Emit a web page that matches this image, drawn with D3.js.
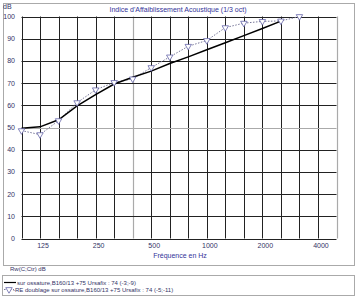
<!DOCTYPE html>
<html lang="en">
<head>
    <meta charset="UTF-8">
    <title>Indice d'Affaiblissement Acoustique</title>
    <style>
        body { margin: 0; background: #fff; }
        svg text { font-family: 'Liberation Sans', Arial, sans-serif; }
    </style>
    <script src="https://d3js.org/d3.v7.min.js"></script>
</head>
<body>
    <svg width="358" height="300"></svg>
    <script>
        // 1/3 octave bands
        const bands = [100, 125, 160, 200, 250, 315, 400, 500, 630, 800, 1000, 1250, 1600, 2000, 2500, 3150, 4000, 5000];
        const xLabels = [125, 250, 500, 1000, 2000, 4000];
        const yTicks = [0, 10, 20, 30, 40, 50, 60, 70, 80, 90, 100];

        // sur ossature
        const ossature = [49.7, 50.3, 53.5, 59.7, 64.8, 69.6, 72.6, 75.4, 78.8, 81.8, 85.0, 88.2, 91.4, 94.6, 97.9, null, null, null];
        // RE doublage
        const doublage = [48.6, 46.8, 53.1, 61.2, 67.0, 70.3, 71.9, 77.0, 81.8, 86.6, 89.2, 95.0, 97.0, 97.8, 98.0, 100.0, null, null];

        const legendLabels = [
            "sur ossature,B160/13 +75 Ursafix : 74 (-3;-9)",
            "-RE doublage sur ossature,B160/13 +75 Ursafix : 74 (-5;-11)"
        ];

        const svg = d3.select("svg");
        const plotL = 21.5, plotR = 336.5, plotT = 16.5, plotB = 238.5;

        const x = d3.scalePoint().domain(bands).range([plotL, plotR]);
        const y = d3.scaleLinear().domain([0, 100]).range([plotB, plotT]);

        // outer frames
        svg.append("rect")
            .attr("x", 3.5).attr("y", 3.5)
            .attr("width", 351).attr("height", 262)
            .attr("fill", "none").attr("stroke", "#aaa");
        svg.append("rect")
            .attr("x", 2.5).attr("y", 275.5)
            .attr("width", 352).attr("height", 20)
            .attr("fill", "none").attr("stroke", "#aaa");

        // grid
        const grid = svg.append("g");
        grid.selectAll("line.v")
            .data(bands)
            .enter().append("line")
            .attr("x1", d => Math.round(x(d)) + 0.5).attr("x2", d => Math.round(x(d)) + 0.5)
            .attr("y1", plotT).attr("y2", plotB)
            .attr("stroke", d => (d === 400 || d === 5000) ? "#aaa" : "#222")
            .attr("stroke-width", d => (d === 400 || d === 5000) ? 1.2 : 1);
        grid.selectAll("line.h")
            .data(yTicks)
            .enter().append("line")
            .attr("x1", plotL).attr("x2", plotR)
            .attr("y1", d => Math.round(y(d)) + 0.5).attr("y2", d => Math.round(y(d)) + 0.5)
            .attr("stroke", d => d === 50 ? "#aaa" : "#222")
            .attr("stroke-width", d => d === 50 ? 1.2 : 1);

        // axis labels
        svg.append("g").selectAll("text")
            .data(yTicks)
            .enter().append("text")
            .attr("x", 15).attr("y", d => y(d) + 2.5)
            .attr("text-anchor", "end")
            .style("font-size", "7px").style("fill", "#333366")
            .text(d => d);

        svg.append("g").selectAll("text")
            .data(xLabels)
            .enter().append("text")
            .attr("x", d => x(d) + 3).attr("y", 248)
            .attr("text-anchor", "middle")
            .style("font-size", "7px").style("fill", "#333366")
            .text(d => d);

        svg.append("text")
            .attr("x", 3).attr("y", 9)
            .style("font-size", "7px").style("fill", "#333366")
            .text("dB");

        svg.append("text")
            .attr("x", 178).attr("y", 11.5)
            .attr("text-anchor", "middle")
            .style("font-size", "7px").style("fill", "#333399")
            .text("Indice d'Affaiblissement Acoustique (1/3 oct)");

        svg.append("text")
            .attr("x", 180).attr("y", 258)
            .attr("text-anchor", "middle")
            .style("font-size", "7px").style("fill", "#333399")
            .text("Fréquence en Hz");

        svg.append("text")
            .attr("x", 10).attr("y", 271)
            .style("font-size", "6px").style("fill", "#333366")
            .text("Rw(C;Ctr)   dB");

        // curves
        const line = d3.line()
            .defined(d => d[1] != null)
            .x(d => x(d[0]))
            .y(d => y(d[1]));

        svg.append("path")
            .datum(bands.map((b, i) => [b, doublage[i]]))
            .attr("d", line)
            .attr("fill", "none")
            .attr("stroke", "#777799")
            .attr("stroke-width", 1)
            .attr("stroke-dasharray", "1.5,1.5");

        svg.append("path")
            .datum(bands.map((b, i) => [b, ossature[i]]))
            .attr("d", line)
            .attr("fill", "none")
            .attr("stroke", "#000")
            .attr("stroke-width", 1.5);

        const tri = d3.symbol().type(d3.symbolTriangle).size(18);
        svg.append("g").selectAll("path")
            .data(bands.map((b, i) => [b, doublage[i]]).filter(d => d[1] != null))
            .enter().append("path")
            .attr("d", tri)
            .attr("transform", d => `translate(${x(d[0])},${y(d[1])}) rotate(180)`)
            .attr("fill", "#fff")
            .attr("stroke", "#6666aa")
            .attr("stroke-width", 0.8);

        // legend
        const lg = svg.append("g");
        lg.append("line")
            .attr("x1", 4).attr("x2", 16).attr("y1", 282.5).attr("y2", 282.5)
            .attr("stroke", "#000").attr("stroke-width", 1.2);
        lg.append("line")
            .attr("x1", 4).attr("x2", 14).attr("y1", 289.5).attr("y2", 289.5)
            .attr("stroke", "#777799").attr("stroke-dasharray", "1.5,1.5");
        lg.append("path")
            .attr("d", tri)
            .attr("transform", "translate(9,289.5) rotate(180)")
            .attr("fill", "#fff").attr("stroke", "#6666aa").attr("stroke-width", 0.8);
        lg.selectAll("text")
            .data(legendLabels)
            .enter().append("text")
            .attr("x", (d, i) => i === 0 ? 17 : 13)
            .attr("y", (d, i) => 284.5 + i * 7)
            .style("font-size", "6px").style("fill", "#333366")
            .text(d => d);
    </script>
</body>
</html>
